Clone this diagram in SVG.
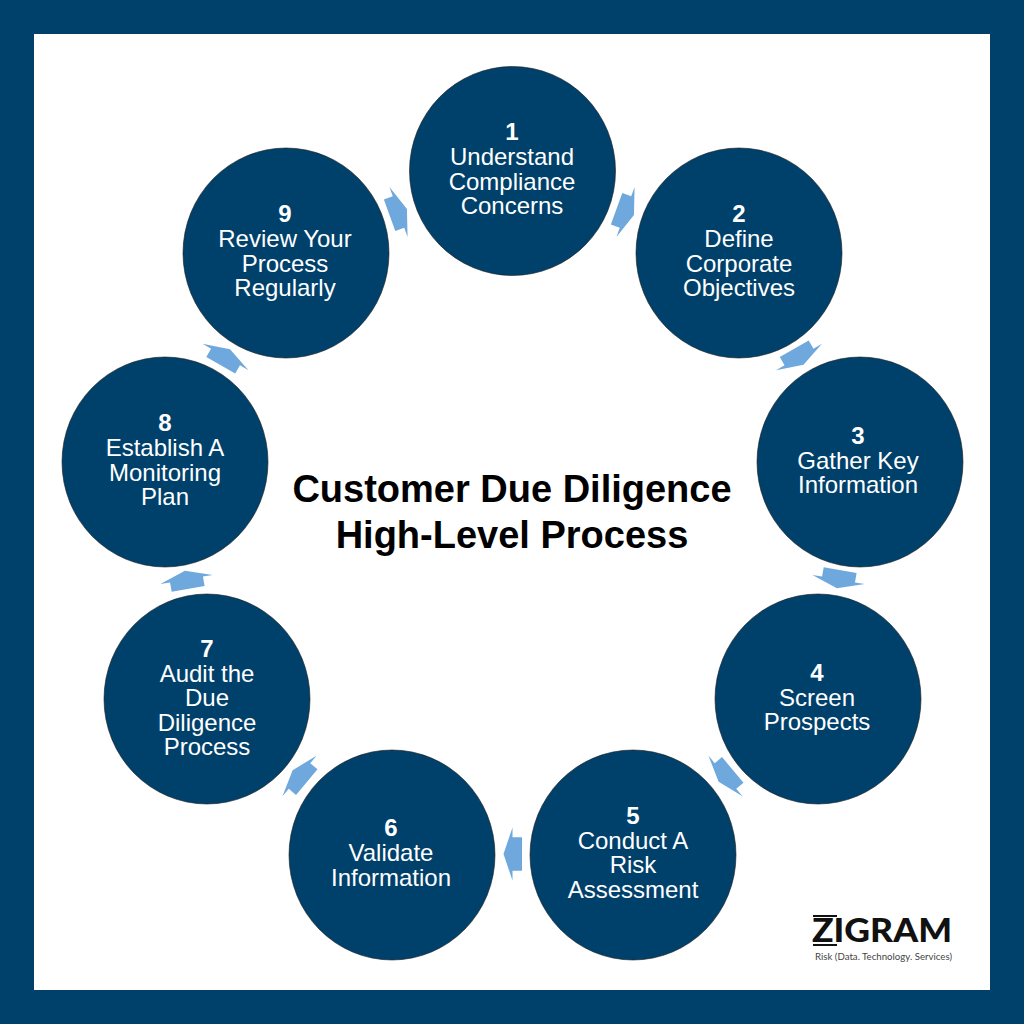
<svg xmlns="http://www.w3.org/2000/svg" width="1024" height="1024" viewBox="0 0 1024 1024">
<style>
.c{fill:#00416b;stroke:#1a1a1a;stroke-width:.6}
.t{font-family:"Liberation Sans",Arial,sans-serif;font-size:24px;fill:#fff;text-anchor:middle}
.n{font-weight:bold}
.h{font-family:"Liberation Sans",Arial,sans-serif;font-size:38px;font-weight:bold;fill:#000;text-anchor:middle}
.a{fill:#6fa8dc}
</style>
<defs><polygon id="arrow" class="a" points="-9.500,-16.700 0,-16.700 0,-26.500 9,0 0,26.500 0,16.700 -9.500,16.700"/></defs>
<rect width="1024" height="1024" fill="#00416b"/>
<rect x="34" y="34" width="956" height="956" fill="#fff"/>
<g id="connectors">
<use href="#arrow" transform="translate(625.500 212) rotate(20)"/>
<use href="#arrow" transform="translate(799 357) rotate(60)"/>
<use href="#arrow" transform="translate(838.500 579.500) rotate(100)"/>
<use href="#arrow" transform="translate(725.500 776) rotate(140)"/>
<use href="#arrow" transform="translate(512.500 854) rotate(180)"/>
<use href="#arrow" transform="translate(299.500 776) rotate(220)"/>
<use href="#arrow" transform="translate(186.500 579.500) rotate(260)"/>
<use href="#arrow" transform="translate(225.500 357) rotate(300)"/>
<use href="#arrow" transform="translate(398.500 212) rotate(340)"/>
</g>
<g id="node1"><ellipse class="c" cx="512.500" cy="171" rx="103" ry="104.500"/><text class="t" x="512" y="140"><tspan class="n" x="512">1</tspan><tspan x="512" dy="25">Understand</tspan><tspan x="512" dy="24.500">Compliance</tspan><tspan x="512" dy="24.500">Concerns</tspan></text></g>
<g id="node2"><ellipse class="c" cx="739" cy="253" rx="103" ry="105"/><text class="t" x="739" y="222"><tspan class="n" x="739">2</tspan><tspan x="739" dy="25">Define</tspan><tspan x="739" dy="24.500">Corporate</tspan><tspan x="739" dy="24.500">Objectives</tspan></text></g>
<g id="node3"><ellipse class="c" cx="860" cy="462" rx="103" ry="105"/><text class="t" x="858" y="443.500"><tspan class="n" x="858">3</tspan><tspan x="858" dy="25">Gather Key</tspan><tspan x="858" dy="24.500">Information</tspan></text></g>
<g id="node4"><ellipse class="c" cx="818" cy="699" rx="103" ry="105"/><text class="t" x="817" y="680.500"><tspan class="n" x="817">4</tspan><tspan x="817" dy="25">Screen</tspan><tspan x="817" dy="24.500">Prospects</tspan></text></g>
<g id="node5"><ellipse class="c" cx="633" cy="855" rx="103" ry="105"/><text class="t" x="633" y="823.500"><tspan class="n" x="633">5</tspan><tspan x="633" dy="25">Conduct A</tspan><tspan x="633" dy="24.500">Risk</tspan><tspan x="633" dy="24.500">Assessment</tspan></text></g>
<g id="node6"><ellipse class="c" cx="392" cy="855" rx="103" ry="105"/><text class="t" x="391" y="836"><tspan class="n" x="391">6</tspan><tspan x="391" dy="25">Validate</tspan><tspan x="391" dy="24.500">Information</tspan></text></g>
<g id="node7"><ellipse class="c" cx="207" cy="699" rx="103" ry="105"/><text class="t" x="207" y="656.500"><tspan class="n" x="207">7</tspan><tspan x="207" dy="25">Audit the</tspan><tspan x="207" dy="24.500">Due</tspan><tspan x="207" dy="24.500">Diligence</tspan><tspan x="207" dy="24.500">Process</tspan></text></g>
<g id="node8"><ellipse class="c" cx="165" cy="462" rx="103" ry="105"/><text class="t" x="165" y="431"><tspan class="n" x="165">8</tspan><tspan x="165" dy="25">Establish A</tspan><tspan x="165" dy="24.500">Monitoring</tspan><tspan x="165" dy="24.500">Plan</tspan></text></g>
<g id="node9"><ellipse class="c" cx="286" cy="253" rx="103" ry="105"/><text class="t" x="285" y="222"><tspan class="n" x="285">9</tspan><tspan x="285" dy="25">Review Your</tspan><tspan x="285" dy="24.500">Process</tspan><tspan x="285" dy="24.500">Regularly</tspan></text></g>
<g id="title"><text class="h" x="512" y="502">Customer Due Diligence</text><text class="h" x="512" y="548">High-Level Process</text></g>
<g id="logo">
<text x="812" y="942" font-family="Lato,'Liberation Sans',sans-serif" font-weight="900" font-size="32" fill="#111" textLength="140" lengthAdjust="spacingAndGlyphs">ZIGRAM</text>
<rect x="813" y="915" width="24" height="2" fill="#111"/><rect x="813" y="944" width="24" height="2" fill="#111"/>
<text x="815" y="960" font-family="Lato,'Liberation Sans',sans-serif" font-size="10" fill="#444" textLength="137" lengthAdjust="spacingAndGlyphs">Risk (Data. Technology. Services)</text>
</g>
</svg>
